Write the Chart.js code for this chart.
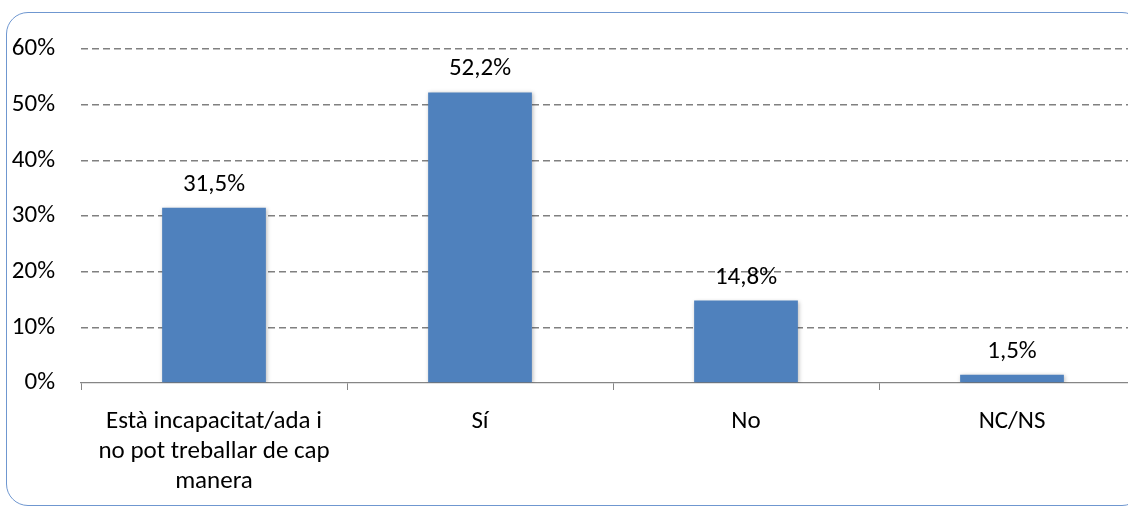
<!DOCTYPE html>
<html>
<head>
<meta charset="utf-8">
<script src="https://cdn.jsdelivr.net/npm/chart.js@4"></script>
<style>
  html, body { margin: 0; padding: 0; background: #fff; overflow: hidden; }
  #wrap { position: relative; width: 1145px; height: 508px; }
  #frame {
    position: absolute; left: 6px; top: 12px; width: 1136px; height: 492px;
    border: 1px solid #6f97d0; border-radius: 22px; pointer-events: none;
  }
</style>
</head>
<body>
<div id="wrap">
  <canvas id="chart" width="1145" height="508"></canvas>
  <div id="frame"></div>
</div>
<script>
const categories = [
  ['Està incapacitat/ada i', 'no pot treballar de cap', 'manera'],
  'Sí',
  'No',
  'NC/NS'
];
const values = [31.5, 52.2, 14.8, 1.5];
const yTicks = [0, 10, 20, 30, 40, 50, 60];

const font = "Calibri, Carlito, Lato, 'Liberation Sans', sans-serif";

// bar value labels, comma decimals like the original
const valueLabels = {
  id: 'valueLabels',
  afterDatasetsDraw(chart) {
    const ctx = chart.ctx;
    const meta = chart.getDatasetMeta(0);
    ctx.save();
    ctx.font = '25px ' + font;
    ctx.fillStyle = '#000';
    ctx.textAlign = 'center';
    ctx.textBaseline = 'alphabetic';
    meta.data.forEach((bar, i) => {
      ctx.fillText(values[i].toFixed(1).replace('.', ',') + '%', bar.x, bar.y - 17);
    });
    ctx.restore();
  }
};

// soft shadow round the bars
const barShadow = {
  id: 'barShadow',
  beforeDatasetDraw(chart) {
    const ctx = chart.ctx;
    ctx.save();
    ctx.shadowColor = 'rgba(0,0,0,0.28)';
    ctx.shadowBlur = 4;
    ctx.shadowOffsetX = 1;
    ctx.shadowOffsetY = 1;
  },
  afterDatasetDraw(chart) {
    chart.ctx.restore();
  }
};

new Chart(document.getElementById('chart').getContext('2d'), {
  type: 'bar',
  data: {
    labels: categories,
    datasets: [{
      data: values,
      backgroundColor: '#4f81bd',
      borderWidth: 0,
      categoryPercentage: 1,
      barPercentage: 0.39
    }]
  },
  options: {
    responsive: false,
    animation: false,
    layout: { padding: { top: 49, right: 0, left: 0, bottom: 0 } },
    plugins: { legend: { display: false }, tooltip: { enabled: false } },
    scales: {
      x: {
        grid: {
          display: true,
          offset: true,
          drawOnChartArea: false,
          tickLength: 7,
          color: '#868686'
        },
        border: { color: '#868686', width: 1.3 },
        ticks: {
          color: '#000',
          font: { family: font, size: 25, lineHeight: 1.2 },
          padding: 17,
          maxRotation: 0
        },
        afterFit(scale) { scale.height = 125; }
      },
      y: {
        min: 0,
        max: 60,
        afterBuildTicks(scale) {
          scale.ticks = yTicks.map(v => ({ value: v }));
        },
        grid: {
          color: ctx => ctx.tick.value === 0 ? 'rgba(0,0,0,0)' : '#808080',
          lineWidth: 1.4,
          drawTicks: false
        },
        border: { display: false, dash: [7, 4] },
        ticks: {
          color: '#000',
          font: { family: font, size: 25 },
          padding: 26,
          callback: v => v + '%'
        },
        afterFit(scale) { scale.width = 81; }
      }
    }
  },
  plugins: [barShadow, valueLabels]
});
</script>
</body>
</html>
